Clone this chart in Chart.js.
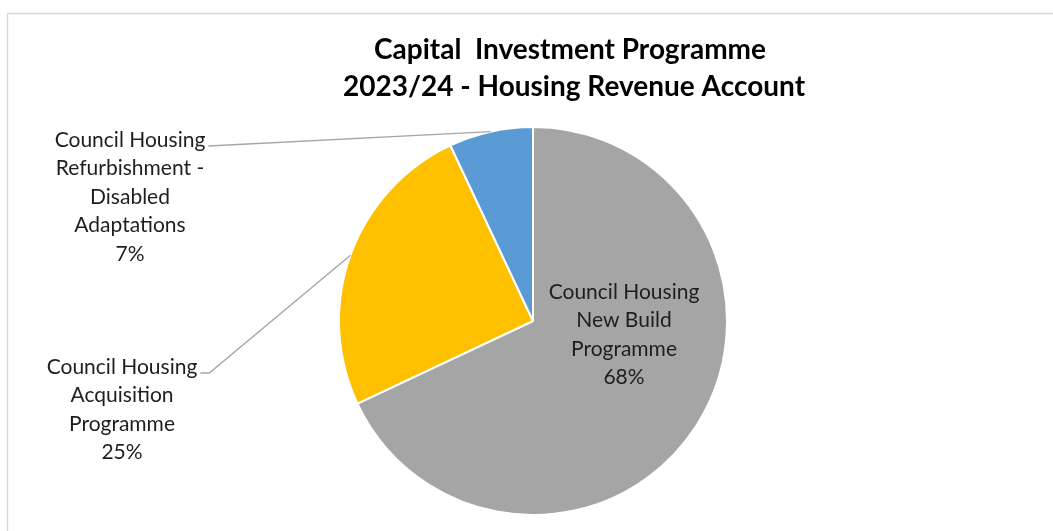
<!DOCTYPE html>
<html>
<head>
<meta charset="utf-8">
<script src="https://cdn.jsdelivr.net/npm/chart.js@4"></script>
<style>
	html, body { margin: 0; padding: 0; background: #fff; }
	#wrap { position: relative; width: 1053px; height: 531px; }
</style>
</head>
<body>
<div id="wrap"><canvas id="hraPieChart" width="1053" height="531"></canvas></div>
<script>
const titleLines = ['Capital  Investment Programme', '2023/24 - Housing Revenue Account'];
const categories = [
	'Council Housing New Build Programme',
	'Council Housing Acquisition Programme',
	'Council Housing Refurbishment - Disabled Adaptations',
];
const labelLines = [
	['Council Housing', 'New Build', 'Programme'],
	['Council Housing', 'Acquisition', 'Programme'],
	['Council Housing', 'Refurbishment -', 'Disabled', 'Adaptations'],
];
const shares = [68, 25, 7];
const sliceColors = ['#a5a5a5', '#ffc000', '#5b9bd5'];

const FONT = 'Lato, "Noto Sans", sans-serif';

// label boxes: centre x, first line y, and whether a leader line is needed
const labelBoxes = [
	{ x: 624, y: 292, leader: false },
	{ x: 122, y: 367, leader: true, elbow: 9 },
	{ x: 130, y: 140, leader: true, elbow: 0 },
];

const decorPlugin = {
	id: 'decor',
	beforeDraw(chart) {
		const { ctx } = chart;
		ctx.save();
		// frame (only top and left edges are visible in the crop)
		ctx.strokeStyle = '#d9d9d9';
		ctx.lineWidth = 1.5;
		ctx.beginPath();
		ctx.moveTo(7.5, 540);
		ctx.lineTo(7.5, 13.5);
		ctx.lineTo(1060, 13.5);
		ctx.stroke();

		ctx.fillStyle = '#000';
		ctx.font = `bold 28px ${FONT}`;
		ctx.textAlign = 'center';
		ctx.textBaseline = 'middle';
		ctx.fillText(titleLines[0], 570, 50);
		ctx.fillText(titleLines[1], 574, 87);
		ctx.restore();
	},
	afterDatasetsDraw(chart) {
		const { ctx } = chart;
		const meta = chart.getDatasetMeta(0);
		const total = shares.reduce((a, b) => a + b, 0);
		ctx.save();
		ctx.font = `21px ${FONT}`;
		ctx.textAlign = 'center';
		ctx.textBaseline = 'middle';
		const step = 28.5;

		meta.data.forEach((arc, i) => {
			const box = labelBoxes[i];
			const lines = labelLines[i].concat(Math.round(shares[i] / total * 100) + '%');

			if (box.leader) {
				const { x, y, startAngle, endAngle, outerRadius } = arc.getProps(['x', 'y', 'startAngle', 'endAngle', 'outerRadius'], true);
				const mid = (startAngle + endAngle) / 2;
				const ex = x + Math.cos(mid) * outerRadius;
				const ey = y + Math.sin(mid) * outerRadius;
				const w = ctx.measureText(lines[0]).width;
				const sx = box.x + w / 2 + 3;
				const sy = box.y + 6;
				ctx.strokeStyle = '#a6a6a6';
				ctx.lineWidth = 1.4;
				ctx.beginPath();
				ctx.moveTo(sx, sy);
				ctx.lineTo(sx + box.elbow, sy);
				ctx.lineTo(ex, ey);
				ctx.stroke();
			}

			ctx.fillStyle = '#1e1e1e';
			lines.forEach((t, k) => ctx.fillText(t, box.x, box.y + k * step));
		});
		ctx.restore();
	},
};

new Chart(document.getElementById('hraPieChart'), {
	type: 'pie',
	data: {
		labels: categories,
		datasets: [
			{
				data: shares,
				backgroundColor: sliceColors,
				borderColor: '#ffffff',
				borderWidth: 2,
			},
		],
	},
	options: {
		responsive: false,
		animation: false,
		radius: 194,
		layout: {
			padding: { left: 340, right: 327, top: 128, bottom: 17 },
		},
		plugins: {
			legend: { display: false },
			title: { display: false },
			tooltip: { enabled: false },
		},
	},
	plugins: [decorPlugin],
});
</script>
</body>
</html>
